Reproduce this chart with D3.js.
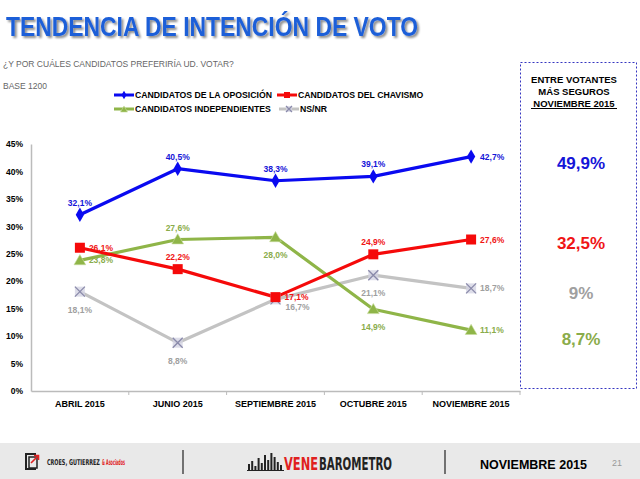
<!DOCTYPE html>
<html><head><meta charset="utf-8">
<script src="https://cdn.jsdelivr.net/npm/d3@7"></script>
<style>
html,body{margin:0;padding:0;background:#fff;}
svg{display:block;font-family:"Liberation Sans",Arial,sans-serif;}
</style></head>
<body>
<script>
const categories = ["ABRIL 2015","JUNIO 2015","SEPTIEMBRE 2015","OCTUBRE 2015","NOVIEMBRE 2015"];
const oposicion = [32.1, 40.5, 38.3, 39.1, 42.7];
const chavismo = [26.1, 22.2, 17.1, 24.9, 27.6];
const independientes = [23.8, 27.6, 28.0, 14.9, 11.1];
const nsnr = [18.1, 8.8, 16.7, 21.1, 18.7];
const yTicks = [0,5,10,15,20,25,30,35,40,45];
const seriesNames = ["CANDIDATOS DE LA OPOSICIÓN","CANDIDATOS DEL CHAVISMO","CANDIDATOS INDEPENDIENTES","NS/NR"];
const seguros = ["49,9%","32,5%","9%","8,7%"];
const segurosSeries = [0,1,3,2];
// label placement per point: a=above, b=below, r=right
const labelPos = [
  ["a","a","a","a","r"],
  ["r","a","r","a","r"],
  ["r","a","b","b","r"],
  ["b","b","br","b","r"]
];

const W=640,H=479;
const svg=d3.select("body").append("svg").attr("width",W).attr("height",H);
const defs=svg.append("defs");
const f=defs.append("filter").attr("id","sh").attr("x","-5%").attr("y","-20%").attr("width","110%").attr("height","150%");
f.append("feDropShadow").attr("dx",2).attr("dy",2).attr("stdDeviation",1.2).attr("flood-color","#000").attr("flood-opacity",0.45);

// Title
svg.append("text").attr("x",6).attr("y",36).attr("font-size",28).attr("font-weight","bold")
  .attr("fill","#1f5fd8").attr("filter","url(#sh)")
  .attr("textLength",412).attr("lengthAdjust","spacingAndGlyphs")
  .text("TENDENCIA DE INTENCIÓN DE VOTO");
svg.append("text").attr("x",3).attr("y",67).attr("font-size",8.5).attr("fill","#666")
  .text("¿Y POR CUÁLES CANDIDATOS PREFERIRÍA UD. VOTAR?");
svg.append("text").attr("x",3).attr("y",89).attr("font-size",8.5).attr("fill","#666")
  .text("BASE 1200");

const x=d3.scaleBand().domain(categories).range([31,520]);
const y=d3.scaleLinear().domain([0,45]).range([391,144]);
const cx=c=>x(c)+x.bandwidth()/2;

// axes
const gy=svg.append("g").attr("transform","translate(31,0)")
  .call(d3.axisLeft(y).tickValues(yTicks).tickSize(0).tickPadding(8).tickFormat(d=>d+"%"));
gy.select(".domain").attr("stroke","#bbb").attr("stroke-width",1.5);
gy.selectAll("text").attr("font-size",8.5).attr("font-weight","bold").attr("fill","#000")
  .attr("font-family","Liberation Sans,Arial,sans-serif");
const gx=svg.append("g").attr("transform","translate(0,391)")
  .call(d3.axisBottom(x).tickSize(0).tickPadding(10));
gx.select(".domain").attr("stroke","#bbb").attr("stroke-width",1.5);
gx.selectAll("text").attr("font-size",9).attr("font-weight","bold").attr("fill","#000")
  .attr("font-family","Liberation Sans,Arial,sans-serif");
const bounds=categories.slice(1).map(c=>x(c)).concat([520]);
svg.append("g").selectAll("line").data(bounds).join("line")
  .attr("x1",d=>d).attr("x2",d=>d).attr("y1",391).attr("y2",395).attr("stroke","#bbb").attr("stroke-width",1);

const series=[
  {name:seriesNames[0],vals:oposicion,color:"#0a0af0",lab:"#1515d8",marker:"diamond"},
  {name:seriesNames[1],vals:chavismo,color:"#f50a0a",lab:"#f01515",marker:"square"},
  {name:seriesNames[2],vals:independientes,color:"#8fb548",lab:"#8aac4a",marker:"triangle"},
  {name:seriesNames[3],vals:nsnr,color:"#c3c3c3",lab:"#a0a0a0",marker:"x"}
];
function drawMarker(g,type,px,py,color,s){
  s=s||1;
  if(type==="diamond"){
    g.append("path").attr("d",d3.symbol(d3.symbolDiamond,60*s*s)()).attr("transform",`translate(${px},${py})`).attr("fill",color);
  } else if(type==="square"){
    g.append("rect").attr("x",px-5*s).attr("y",py-5*s).attr("width",10*s).attr("height",10*s).attr("fill",color);
  } else if(type==="triangle"){
    g.append("path").attr("d",d3.symbol(d3.symbolTriangle,60*s*s)()).attr("transform",`translate(${px},${py+1})`).attr("fill",color).attr("stroke","#c8dc9c").attr("stroke-width",0.6);
  } else {
    g.append("rect").attr("x",px-5*s).attr("y",py-5*s).attr("width",10*s).attr("height",10*s).attr("fill","#d4d4e4").attr("opacity",0.8);
    g.append("path").attr("d",`M${px-5*s},${py-5*s}L${px+5*s},${py+5*s}M${px+5*s},${py-5*s}L${px-5*s},${py+5*s}`)
      .attr("stroke","#8a8aaa").attr("stroke-width",1.3);
  }
}
const line=d3.line().x((d,i)=>cx(categories[i])).y(d=>y(d));
const order=[3,2,1,0];
order.forEach(si=>{
  const s=series[si];
  svg.append("path").datum(s.vals).attr("d",line).attr("fill","none").attr("stroke",s.color).attr("stroke-width",3.2).attr("stroke-linejoin","round");
});
order.forEach(si=>{
  const s=series[si];const g=svg.append("g");
  s.vals.forEach((v,i)=>drawMarker(g,s.marker,cx(categories[i]),y(v),s.color));
});
series.forEach((s,si)=>{
  s.vals.forEach((v,i)=>{
    const px=cx(categories[i]),py=y(v),p=labelPos[si][i];
    let tx=px,ty=py,anchor="middle";
    if(p==="a"){ty=py-9;}
    else if(p==="b"){ty=py+21;}
    else if(p==="r"){tx=px+9;ty=py+3;anchor="start";}
    else if(p==="br"){tx=px+22;ty=py+11;}
    svg.append("text").attr("x",tx).attr("y",ty).attr("text-anchor",anchor)
      .attr("font-size",8.5).attr("font-weight","bold").attr("fill",s.lab)
      .text(String(v.toFixed(1)).replace(".",",")+"%");
  });
});

// legend
const legItems=[[114,95,0],[277,95,1],[114,109,2],[279,109,3]];
legItems.forEach(([lx,ly,si])=>{
  const s=series[si];const g=svg.append("g");
  g.append("line").attr("x1",lx).attr("x2",lx+20).attr("y1",ly).attr("y2",ly).attr("stroke",s.color).attr("stroke-width",3);
  drawMarker(g,s.marker,lx+10,ly,s.color,0.6);
  g.append("text").attr("x",lx+21).attr("y",ly+3.3).attr("font-size",8.7).attr("font-weight","bold").attr("fill","#000").text(s.name);
});

// right box
svg.append("rect").attr("x",520.5).attr("y",62.5).attr("width",116).attr("height",326)
  .attr("fill","none").attr("stroke","#3535c0").attr("stroke-width",1).attr("stroke-dasharray","2,2");
["ENTRE VOTANTES","MÁS SEGUROS","NOVIEMBRE 2015"].forEach((t,i)=>{
  svg.append("text").attr("x",574).attr("y",83+i*12).attr("text-anchor","middle").attr("font-size",9.5)
    .attr("font-weight","bold").attr("fill","#000").text(t);
});
svg.append("line").attr("x1",531).attr("x2",617).attr("y1",108.5).attr("y2",108.5).attr("stroke","#000").attr("stroke-width",1);
const segY=[169,249,299,345];
seguros.forEach((t,i)=>{
  svg.append("text").attr("x",581).attr("y",segY[i]).attr("text-anchor","middle").attr("font-size",17)
    .attr("font-weight","bold").attr("fill",series[segurosSeries[i]].lab).text(t);
});

// footer
svg.append("rect").attr("x",0).attr("y",443).attr("width",640).attr("height",36).attr("fill","#e9e9e9");
const lg=svg.append("g");
lg.append("path").attr("d","M25,453h11v2h-9v13h9v2h-11z").attr("fill","#222");
lg.append("path").attr("d","M29,457h8v11h-8z").attr("fill","none").attr("stroke","#222").attr("stroke-width",1.5);
lg.append("path").attr("d","M31,463l7-7M34,455.5h4.5v4.5").attr("fill","none").attr("stroke","#e02020").attr("stroke-width",1.6);
const narrow="Liberation Sans Narrow,DejaVu Sans Condensed,sans-serif";
const t1=lg.append("text").attr("font-size",8).attr("font-weight","bold").attr("fill","#222")
  .attr("font-family",narrow).text("CROES, GUTIERREZ");
const w1=t1.node().getComputedTextLength();
t1.attr("transform",`translate(47,465) scale(${53/w1},1)`);
const t2=lg.append("text").attr("font-size",8).attr("font-weight","bold").attr("fill","#e02020")
  .attr("font-family",narrow).text("& Asociados");
const w2=t2.node().getComputedTextLength();
t2.attr("transform",`translate(102,465) scale(${23/w2},1)`);
svg.append("line").attr("x1",183).attr("x2",183).attr("y1",450).attr("y2",474).attr("stroke","#222").attr("stroke-width",1.2);
svg.append("line").attr("x1",445).attr("x2",445).attr("y1",450).attr("y2",474).attr("stroke","#222").attr("stroke-width",1.2);
const barsH=[6,9,4,12,7,15,10,17,13,8,5];
svg.append("g").selectAll("rect").data(barsH).join("rect")
  .attr("x",(d,i)=>248+i*3.2).attr("y",d=>470-d).attr("width",2).attr("height",d=>d).attr("fill","#222");
svg.append("line").attr("x1",247).attr("x2",284).attr("y1",470.5).attr("y2",470.5).attr("stroke","#222");
const v1=svg.append("text").attr("font-size",17).attr("font-weight","bold").attr("fill","#e02020")
  .attr("font-family",narrow).text("VENE");
v1.attr("transform",`translate(284,470) scale(${34/v1.node().getComputedTextLength()},1)`);
const v2=svg.append("text").attr("font-size",17).attr("font-weight","bold").attr("fill","#222")
  .attr("font-family",narrow).text("BAROMETRO");
v2.attr("transform",`translate(319,470) scale(${73/v2.node().getComputedTextLength()},1)`);
svg.append("text").attr("x",480).attr("y",469).attr("font-size",12.5).attr("font-weight","bold").attr("fill","#000").text("NOVIEMBRE 2015");
svg.append("text").attr("x",612).attr("y",466).attr("font-size",9).attr("fill","#999").text("21");
</script>
</body></html>
